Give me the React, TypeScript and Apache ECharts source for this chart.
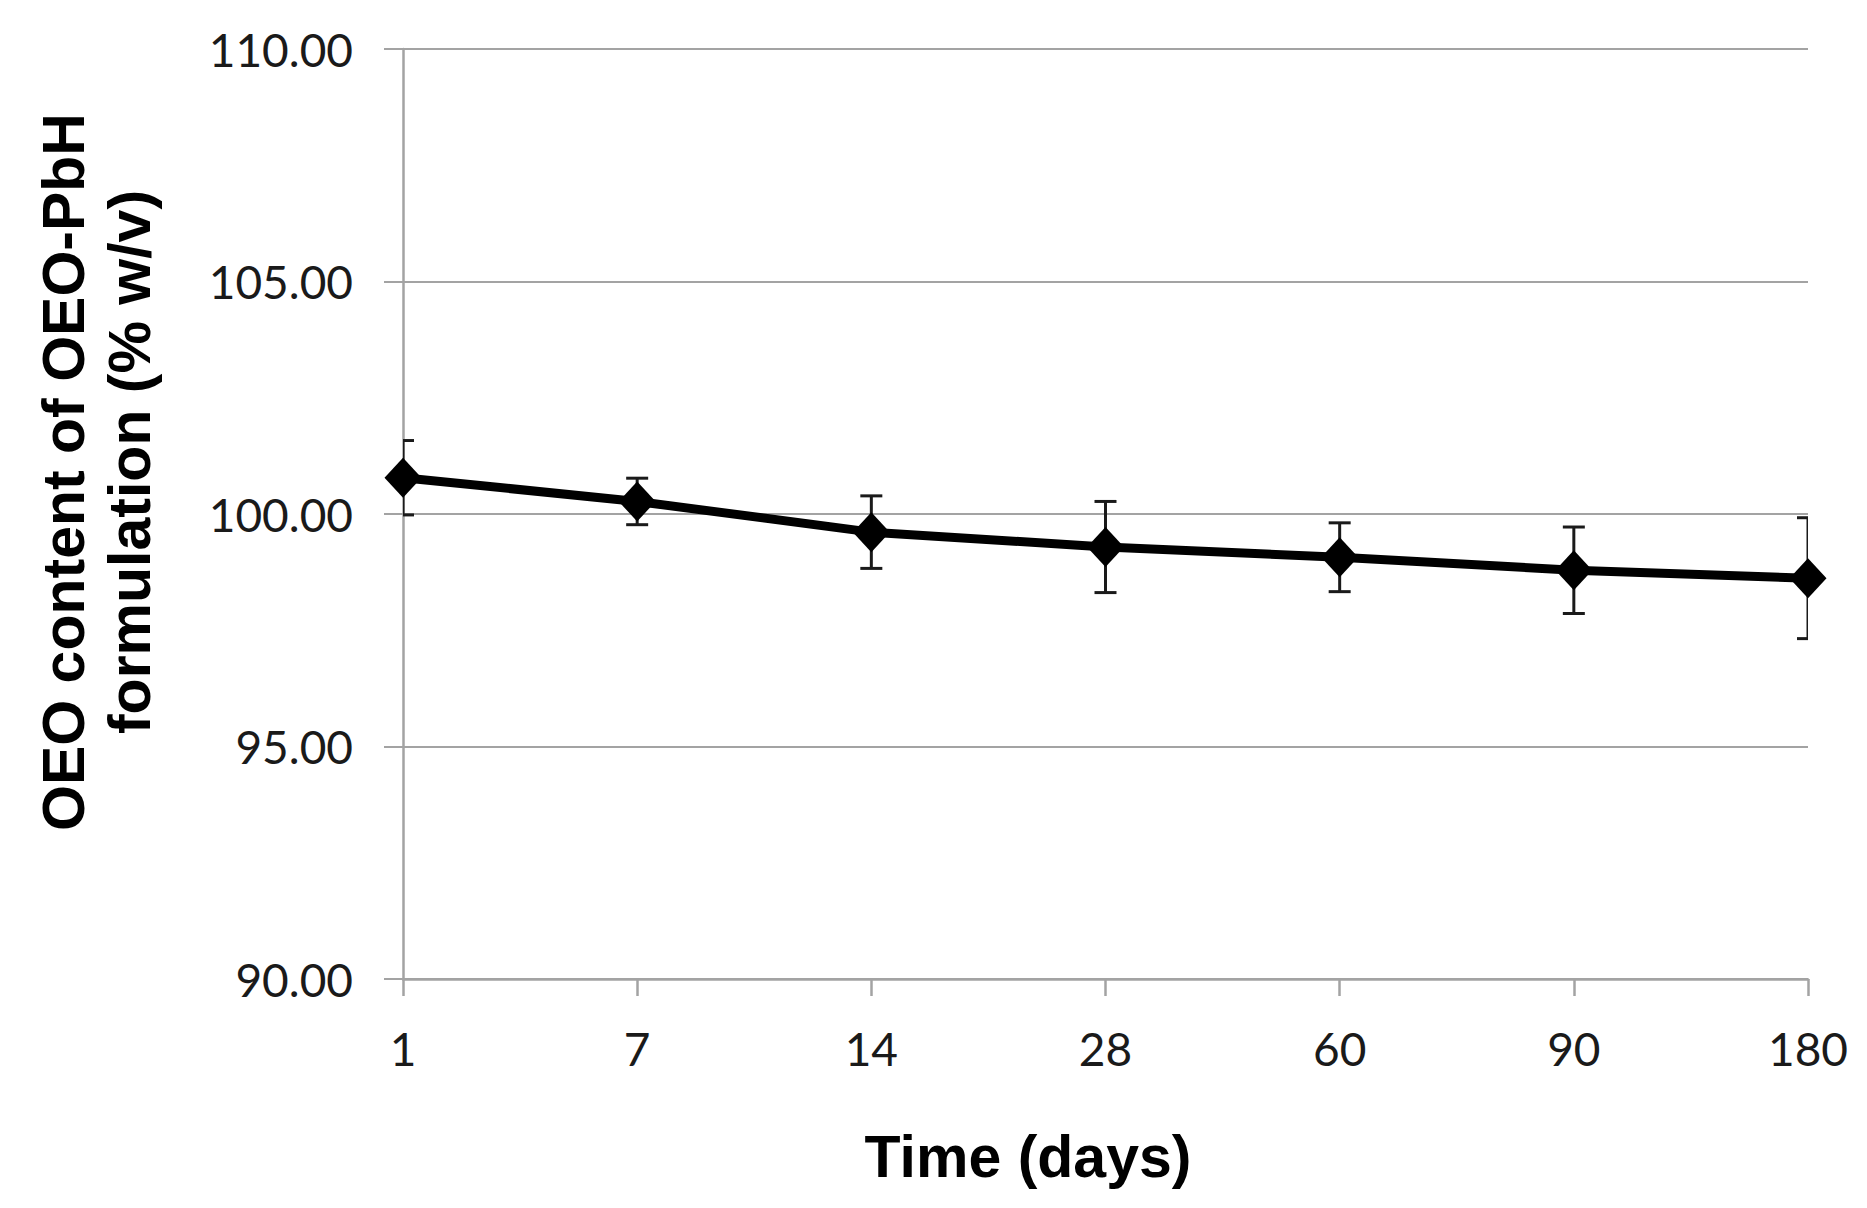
import React, { useEffect, useRef } from "react";
import * as echarts from "echarts";

const days = ["1", "7", "14", "28", "60", "90", "180"];
const content = [100.78, 100.27, 99.61, 99.29, 99.07, 98.79, 98.62];
const errorSD = [0.8, 0.5, 0.78, 0.98, 0.74, 0.93, 1.3];
const yTicks = { min: 90, max: 110, interval: 5 };
const xTitle = "Time (days)";
const yTitleLines = ["OEO content of OEO-PbH", "formulation (% w/v)"];

const GRAY = "#a3a3a3";

export default function App() {
  const ref = useRef<HTMLDivElement>(null);
  useEffect(() => {
    document.body.style.margin = "0";
    const chart = echarts.init(ref.current!, null, { renderer: "svg" });
    const errData = days.map((_, i) => [i, content[i] - errorSD[i], content[i] + errorSD[i]]);
    chart.setOption({
      animation: false,
      backgroundColor: "#ffffff",
      grid: { left: 403, right: 59, top: 49, bottom: 229, containLabel: false },
      xAxis: {
        type: "category",
        data: days,
        boundaryGap: false,
        axisLine: { lineStyle: { color: GRAY, width: 2.5 } },
        axisTick: { show: true, length: 17, alignWithLabel: true, lineStyle: { color: GRAY, width: 2.5 } },
        axisLabel: { fontFamily: "Lato", fontSize: 46, color: "#1a1a1a", margin: 46 },
        splitLine: { show: false },
      },
      yAxis: {
        type: "value",
        min: yTicks.min,
        max: yTicks.max,
        interval: yTicks.interval,
        axisLine: { show: true, lineStyle: { color: GRAY, width: 2.5 } },
        axisTick: { show: true, length: 19, lineStyle: { color: GRAY, width: 2 } },
        axisLabel: {
          fontFamily: "Lato",
          fontSize: 46,
          color: "#1a1a1a",
          margin: 50,
          formatter: (v: number) => v.toFixed(2),
        },
        splitLine: { show: true, lineStyle: { color: GRAY, width: 2 } },
      },
      graphic: [
        {
          type: "text",
          x: 1028,
          y: 1157,
          style: {
            text: xTitle,
            fontFamily: "Liberation Sans",
            fontWeight: "bold",
            fontSize: 59,
            fill: "#000",
            align: "center",
            verticalAlign: "middle",
          },
        },
        {
          type: "text",
          x: 64,
          y: 472,
          rotation: Math.PI / 2,
          style: {
            text: yTitleLines[0],
            fontFamily: "Liberation Sans",
            fontWeight: "bold",
            fontSize: 59,
            fill: "#000",
            align: "center",
            verticalAlign: "middle",
          },
        },
        {
          type: "text",
          x: 130,
          y: 462,
          rotation: Math.PI / 2,
          style: {
            text: yTitleLines[1],
            fontFamily: "Liberation Sans",
            fontWeight: "bold",
            fontSize: 59,
            fill: "#000",
            align: "center",
            verticalAlign: "middle",
          },
        },
      ],
      series: [
        {
          type: "custom",
          z: 1,
          clip: true,
          data: errData,
          renderItem: (params: any, api: any) => {
            const x = api.coord([api.value(0), api.value(1)])[0];
            const yLow = api.coord([api.value(0), api.value(1)])[1];
            const yHigh = api.coord([api.value(0), api.value(2)])[1];
            const hw = 11;
            const style = { stroke: "#1a1a1a", lineWidth: 3 };
            return {
              type: "group",
              children: [
                { type: "line", shape: { x1: x, y1: yHigh, x2: x, y2: yLow }, style },
                { type: "line", shape: { x1: x - hw, y1: yHigh, x2: x + hw, y2: yHigh }, style },
                { type: "line", shape: { x1: x - hw, y1: yLow, x2: x + hw, y2: yLow }, style },
              ],
            };
          },
        },
        {
          type: "line",
          z: 3,
          data: content,
          symbol: "diamond",
          symbolSize: [37, 40],
          showAllSymbol: true,
          lineStyle: { color: "#000", width: 9 },
          itemStyle: { color: "#000" },
        },
      ],
    });
    return () => chart.dispose();
  }, []);
  return <div ref={ref} style={{ width: 1867, height: 1208 }} />;
}
